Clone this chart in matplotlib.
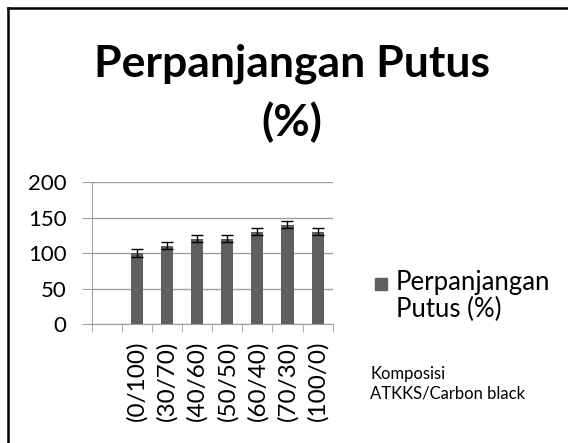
import matplotlib.pyplot as plt
import numpy as np

plt.rcParams['font.family'] = ['Lato', 'DejaVu Sans']

# data
labels = ['', '(0/100)', '(30/70)', '(40/60)', '(50/50)', '(60/40)', '(70/30)', '(100/0)']
values = [np.nan, 100, 110, 120, 120, 130, 140, 130]
errors = [0, 5, 5, 5, 5, 5, 5, 5]
series_name = 'Perpanjangan\nPutus (%)'

W, H = 568, 443
fig = plt.figure(figsize=(W / 100, H / 100), dpi=100)
ax = fig.add_axes([0.1614, 0.2686, 0.4243, 0.3205])

x = np.arange(len(labels))
ax.bar(x, values, width=0.4, color='#5f5f5f', zorder=3,
       yerr=errors, error_kw=dict(ecolor='black', capsize=4, elinewidth=1, capthick=1, zorder=4))

ax.set_xlim(-0.5, len(labels) - 0.5)
ax.set_ylim(0, 200)
ax.set_yticks([0, 50, 100, 150, 200])
ax.set_yticklabels(['0', '50', '100', '150', '200'], fontsize=16)
ax.yaxis.grid(True, color='#a0a0a0', linewidth=1, zorder=0)
ax.tick_params(axis='y', length=7, color='#a0a0a0', pad=11)

ax.set_xticks(x)
ax.set_xticklabels(labels, rotation=90, fontsize=17.5)
ax.set_xticks(np.arange(-0.5, len(labels)), minor=True)
ax.tick_params(axis='x', which='major', length=0, pad=12)
ax.tick_params(axis='x', which='minor', length=6, color='#a0a0a0')

for s in ['top', 'right']:
    ax.spines[s].set_visible(False)
ax.spines['left'].set_color('#a0a0a0')
ax.spines['bottom'].set_color('#a0a0a0')

# title
fig.text(0.514, 1 - 93 / H, 'Perpanjangan Putus\n(%)', ha='center', va='center',
         fontsize=32, fontweight='bold', linespacing=1.5)

# legend
fig.patches.append(plt.Rectangle((375 / W, 1 - 290 / H), 12 / W, 12 / H,
                                 transform=fig.transFigure, color='#5f5f5f'))
fig.text(396 / W, 1 - 296 / H, series_name, ha='left', va='center', fontsize=18.5,
         linespacing=1.1)

fig.text(370 / W, 1 - 384 / H, 'Komposisi\nATKKS/Carbon black', ha='left', va='center',
         fontsize=12, linespacing=1.3)

# frame (left and top edges only, as in the cropped original)
fig.add_artist(plt.Line2D([7.5 / W, 7.5 / W], [0, 1 - 7.5 / H], transform=fig.transFigure,
                          color='black', linewidth=1.8))
fig.add_artist(plt.Line2D([7.5 / W, 1], [1 - 7.5 / H, 1 - 7.5 / H], transform=fig.transFigure,
                          color='black', linewidth=1.8))

fig.savefig('out.png', dpi=100)
